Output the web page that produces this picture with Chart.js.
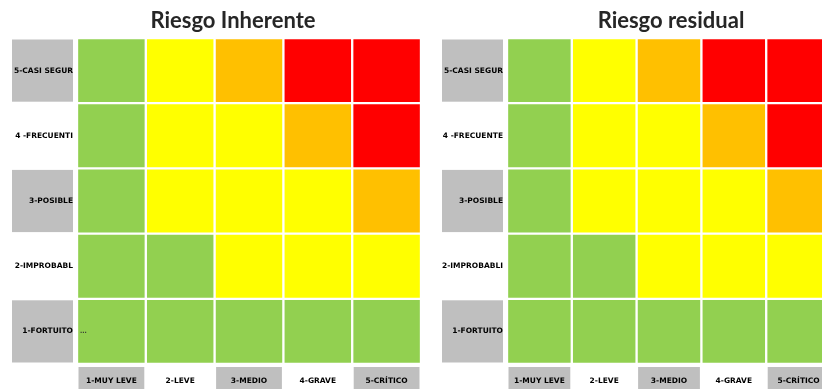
<!DOCTYPE html>
<html>
<head>
<meta charset="utf-8">
<script src="https://cdn.jsdelivr.net/npm/chart.js@4/dist/chart.umd.min.js"></script>
<style>
  html, body { margin: 0; padding: 0; background: #ffffff; width: 822px; height: 389px; overflow: hidden; position: relative; }
  .box { position: absolute; top: 0; height: 389px; }
</style>
</head>
<body>
<div class="box" id="boxL" style="left:0;width:466px;"><canvas id="cL"></canvas></div>
<div class="box" id="boxR" style="left:430px;width:482px;"><canvas id="cR"></canvas></div>
<script>
// ---- data ----
const titles = ['Riesgo Inherente', 'Riesgo residual'];
// impact (columns)
const impactLabels = ['1-MUY LEVE', '2-LEVE', '3-MEDIO', '4-GRAVE', '5-CRÍTICO'];
// probability (rows, bottom to top) as shown (clipped) in each matrix
const probLabelsInherente = ['1-FORTUITO', '2-IMPROBABL', '3-POSIBLE', '4 -FRECUENTI', '5-CASI SEGUR'];
const probLabelsResidual  = ['1-FORTUITO', '2-IMPROBABLI', '3-POSIBLE', '4 -FRECUENTE', '5-CASI SEGUR'];
// risk level per cell, rows bottom (1) to top (5), columns impact 1..5
// 1 = bajo, 2 = moderado, 3 = alto, 4 = extremo
const riesgoInherente = [
  [1, 1, 1, 1, 1],
  [1, 1, 2, 2, 2],
  [1, 2, 2, 2, 3],
  [1, 2, 2, 3, 4],
  [1, 2, 3, 4, 4]
];
const riesgoResidual = [
  [1, 1, 1, 1, 1],
  [1, 1, 2, 2, 2],
  [1, 2, 2, 2, 3],
  [1, 2, 2, 3, 4],
  [1, 2, 3, 4, 4]
];
// small note text inside cells: [rowIndex, colIndex, text]
const notasInherente = [[0, 0, '...']];
const notasResidual = [];

// ---- styles ----
const levelColors = { 1: '#92D050', 2: '#FFFF00', 3: '#FFC000', 4: '#FF0000' };
const labelGray = '#BFBFBF';
const tickFont = { family: 'DejaVu Sans', size: 7.5, weight: 'bold' };

const labelBoxes = {
  id: 'labelBoxes',
  beforeDraw(chart) {
    const ctx = chart.ctx, ca = chart.chartArea;
    const x = chart.scales.x, y = chart.scales.y;
    const g = 1.5;
    ctx.save();
    ctx.fillStyle = labelGray;
    const nRows = chart.data.datasets.length;
    for (let r = 0; r < nRows; r++) {
      if ((nRows - 1 - r) % 2 !== 0) continue;
      const top = y.getPixelForValue(r + 1) + g, bot = y.getPixelForValue(r) - g;
      const left = ca.left - 65, right = ca.left - 4;
      ctx.fillRect(left, top, right - left, bot - top);
    }
    const n = chart.data.labels.length;
    const w = (ca.right - ca.left) / n;
    for (let c = 0; c < n; c += 2) {
      const cx = x.getPixelForValue(c);
      ctx.fillRect(cx - w / 2 + g, ca.bottom + 3, w - 2 * g, 40);
    }
    ctx.restore();
  },
  afterDatasetsDraw(chart, args, opts) {
    const notes = opts.notes || [];
    const ctx = chart.ctx, ca = chart.chartArea;
    const x = chart.scales.x, y = chart.scales.y;
    const w = (ca.right - ca.left) / chart.data.labels.length;
    ctx.save();
    ctx.fillStyle = '#333';
    ctx.font = 'bold 6px "DejaVu Sans"';
    ctx.textBaseline = 'middle';
    ctx.textAlign = 'left';
    notes.forEach(([r, c, t]) => {
      ctx.fillText(t, x.getPixelForValue(c) - w / 2 + 3, y.getPixelForValue(r + 0.5));
    });
    ctx.restore();
  }
};

function makeChart(canvasId, title, probLabels, matrix, notes, padRight) {
  const datasets = matrix.map((row, r) => ({
    label: probLabels[r],
    data: row.map(() => [r, r + 1]),
    backgroundColor: row.map(v => levelColors[v]),
    borderColor: '#ffffff',
    borderWidth: 1.5,
    borderSkipped: false,
    barPercentage: 1,
    categoryPercentage: 1,
    grouped: false
  }));
  return new Chart(document.getElementById(canvasId), {
    type: 'bar',
    data: { labels: impactLabels, datasets },
    plugins: [labelBoxes],
    options: {
      responsive: true,
      maintainAspectRatio: false,
      animation: false,
      layout: { padding: 0 },
      plugins: {
        legend: { display: false },
        tooltip: { enabled: false },
        labelBoxes: { notes },
        title: {
          display: true,
          text: title,
          color: '#262626',
          font: { family: 'Lato', size: 22, weight: 'bold', lineHeight: 1.2 },
          padding: { top: 8, bottom: 3.6 }
        }
      },
      scales: {
        x: {
          grid: { display: false, drawTicks: false },
          border: { display: false },
          ticks: { font: tickFont, color: '#000', padding: 13, maxRotation: 0, autoSkip: false },
          afterFit: s => { s.height = 25; }
        },
        y: {
          min: 0, max: probLabels.length,
          grid: { display: false, drawTicks: false },
          border: { display: false },
          afterBuildTicks: s => { s.ticks = probLabels.map((_, i) => ({ value: i + 0.5 })); },
          ticks: {
            font: tickFont, color: '#000', padding: 4, crossAlign: 'near', autoSkip: false,
            callback: v => probLabels[Math.floor(v)]
          },
          afterFit: s => { s.width = 77; }
        },
        spacer: {
          type: 'linear',
          position: 'right',
          display: true,
          grid: { display: false, drawTicks: false },
          border: { display: false },
          ticks: { display: false },
          afterFit: s => { s.width = padRight; }
        }
      }
    }
  });
}

makeChart('cL', titles[0], probLabelsInherente, riesgoInherente, notasInherente, 45);
makeChart('cR', titles[1], probLabelsResidual, riesgoResidual, notasResidual, 81);
</script>
</body>
</html>
